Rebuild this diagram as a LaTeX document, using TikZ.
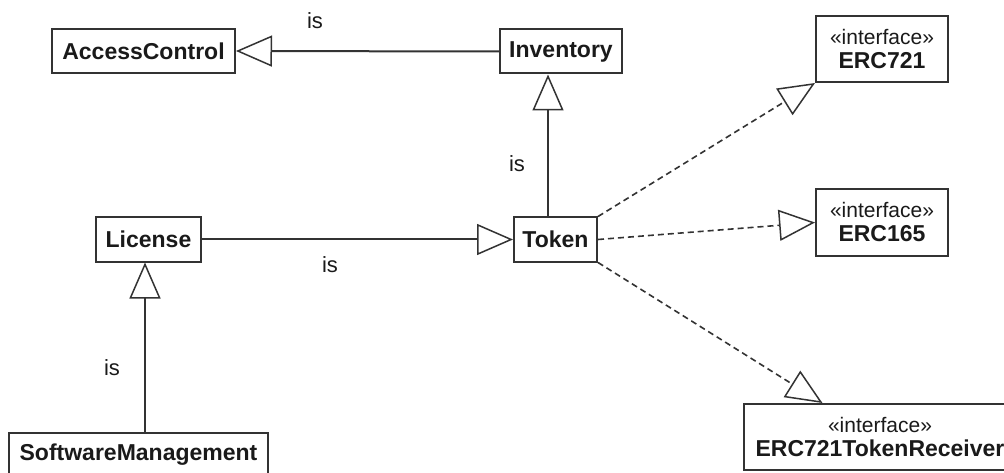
\documentclass[tikz,border=0pt]{standalone}
\usepackage{fontspec}
\setmainfont{Liberation Sans}
\usetikzlibrary{arrows.meta,calc}
\definecolor{umlline}{HTML}{333333}
\definecolor{umltext}{HTML}{1A1A1A}
\newcommand{\ifacetag}{{\fontsize{21}{24}\selectfont\mdseries «interface»}}

\begin{document}
\begin{tikzpicture}[x=1pt,y=-1pt,
  classbox/.style={draw=umlline, line width=2pt, fill=white, text=umltext,
    font=\fontsize{23}{24}\selectfont\bfseries, minimum height=44pt,
    inner sep=0pt, align=center},
  ifacebox/.style={classbox, minimum height=66pt},
  islabel/.style={text=umltext, font=\fontsize{22}{24}\selectfont, inner sep=0pt},
  genline/.style={draw=umlline, line width=2pt,
    -{Triangle[open, length=36pt, width=31pt, line width=1.5pt]}},
  realline/.style={draw=umlline, line width=1.6pt, dash pattern=on 6pt off 4pt,
    -{Triangle[open, length=36pt, width=31pt, line width=1.5pt]}}
]
% canvas
\fill[white] (0,0) rectangle (1004,473);
\useasboundingbox (0,0) rectangle (1004,473);

% classes
\node[classbox, minimum width=183pt] (AccessControl) at (143.5,51) {AccessControl};
\node[classbox, minimum width=122pt] (Inventory) at (561,51.5) {Inventory};
\node[classbox, minimum width=83pt]  (Token) at (555.5,239.5) {Token};
\node[classbox, minimum width=105pt] (License) at (148.5,239.5) {License};
\node[classbox, minimum width=259pt] (SoftwareManagement) at (138.5,455) {SoftwareManagement};

% interfaces
\node[ifacebox, minimum width=132pt] (ERC721) at (882,49) {\ifacetag\\ERC721};
\node[ifacebox, minimum width=132pt] (ERC165) at (882,222.5) {\ifacetag\\ERC165};
\node[ifacebox, minimum width=272pt] (Receiver) at (880,437) {\ifacetag\\ERC721TokenReceiver};

% attachment points of the vertical generalisations
\coordinate (stemA) at (548,0);
\coordinate (stemB) at (145,0);
\coordinate (recvTop) at ($(Receiver.north west)!0.29!(Receiver.north east)$);

% generalisations
\draw[genline] (Inventory.west) -- (AccessControl.east);
\draw[genline] (Token.north -| stemA) -- (Inventory.south -| stemA);
\draw[genline] (License.east) -- (Token.west);
\draw[genline] (SoftwareManagement.north -| stemB) -- (License.south -| stemB);

% realisations
\draw[realline] (Token.north east) -- (ERC721.south west);
\draw[realline] (Token.east) -- (ERC165.west);
\draw[realline] (Token.south east) -- (recvTop);

% relation labels
\node[islabel] (lblInv) at (315,21) {is};
\node[islabel] (lblTok) at (517,164) {is};
\node[islabel] (lblLic) at (330,265) {is};
\node[islabel] (lblSw) at (112,368) {is};
\end{tikzpicture}
\end{document}
